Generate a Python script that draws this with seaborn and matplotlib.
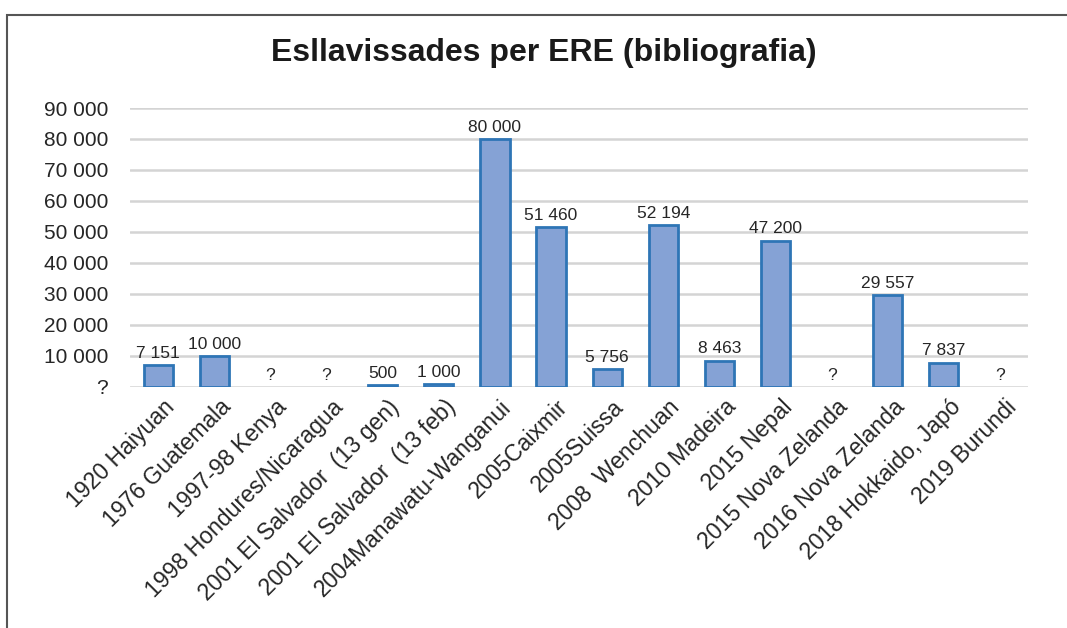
import numpy as np
import pandas as pd
import seaborn as sns
import matplotlib.pyplot as plt
from matplotlib.patches import Rectangle
from matplotlib.ticker import FuncFormatter
from matplotlib.transforms import ScaledTranslation

# dades del gràfic
noms = ['1920 Haiyuan', '1976 Guatemala', '1997-98 Kenya', '1998 Hondures/Nicaragua',
        '2001 El Salvador  (13 gen)', '2001 El Salvador  (13 feb)', '2004Manawatu-Wanganui',
        '2005Caixmir', '2005Suissa', '2008  Wenchuan', '2010 Madeira', '2015 Nepal',
        '2015 Nova Zelanda', '2016 Nova Zelanda', '2018 Hokkaido, Japó', '2019 Burundi']
valors = [7151, 10000, np.nan, np.nan, 500, 1000, 80000, 51460, 5756, 52194, 8463,
          47200, np.nan, 29557, 7837, np.nan]
yticks = [0, 10000, 20000, 30000, 40000, 50000, 60000, 70000, 80000, 90000]

df = pd.DataFrame({'nom': noms, 'valor': valors})


def format_num(v):
    # els buits i el zero es mostren com a "?"
    if v is None or np.isnan(v) or v == 0:
        return '?'
    return f'{int(round(v)):,}'.replace(',', ' ')


sns.set_theme(style='white')
plt.rcParams['font.family'] = ['Liberation Sans', 'DejaVu Sans']

fig = plt.figure(figsize=(10.67, 6.28), dpi=100)
ax = fig.add_axes([0.122, 0.384, 0.8415, 0.444])

sns.barplot(data=df, x='nom', y='valor', order=noms, ax=ax, color='#85a2d5',
            saturation=1, width=0.52, edgecolor='#2e75b6', linewidth=2, zorder=3)

# etiquetes de dades
for i, v in enumerate(valors):
    h = 0 if np.isnan(v) else v
    ax.annotate(format_num(v), (i, h), xytext=(0, 3), textcoords='offset points',
                ha='center', va='bottom', fontsize=12.5, color='#262626')

ax.set_ylim(0, 90000)
ax.set_xlim(-0.5, len(noms) - 0.5)
ax.set_yticks(yticks)
ax.yaxis.set_major_formatter(FuncFormatter(lambda v, p: format_num(v)))
ax.grid(axis='y', color='#d4d4d4', linewidth=1.8, zorder=0)
ax.set_axisbelow(True)
for s in ax.spines.values():
    s.set_visible(False)
ax.tick_params(axis='both', length=0)
ax.tick_params(axis='y', labelsize=15, labelcolor='#262626', pad=16)
ax.tick_params(axis='x', pad=12)
ax.set_xlabel('')
ax.set_ylabel('')
despl = ScaledTranslation(13 / 100, 0, fig.dpi_scale_trans)
for lab in ax.get_xticklabels():
    lab.set_rotation(45)
    lab.set_ha('right')
    lab.set_va('center')
    lab.set_rotation_mode('anchor')
    lab.set_fontsize(16.6)
    lab.set_color('#262626')
    lab.set_transform(lab.get_transform() + despl)

# títol
fig.text(0.51, 0.915, 'Esllavissades per ERE (bibliografia)', ha='center', va='center',
         fontsize=23, fontweight='bold', color='#1a1a1a')

# marc del gràfic
fig.patches.append(Rectangle((7 / 1067, -0.2), 1.2, 1.2 - 15 / 628, transform=fig.transFigure,
                             fill=False, edgecolor='#555555', linewidth=1.5))

fig.savefig('out.png', dpi=100)
